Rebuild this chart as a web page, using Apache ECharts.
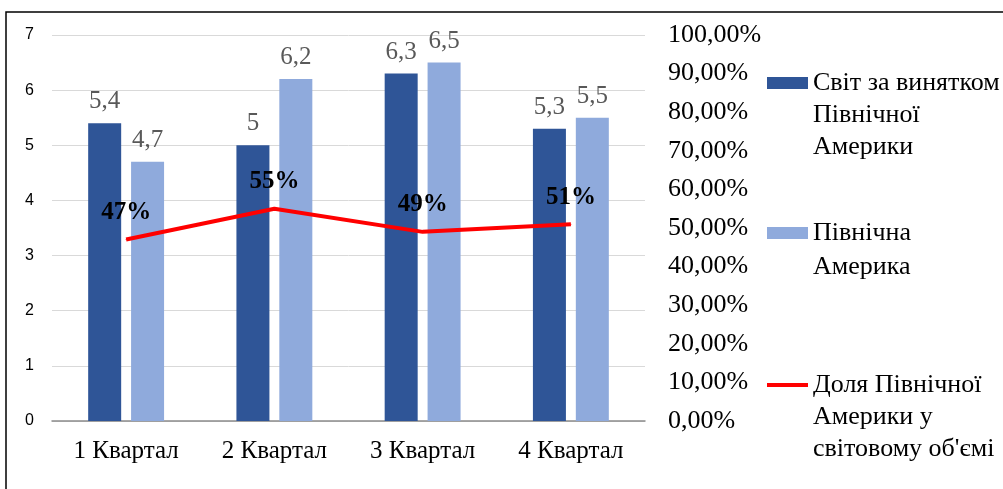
<!DOCTYPE html>
<html>
<head>
<meta charset="utf-8">
<script src="https://cdn.jsdelivr.net/npm/echarts@6/dist/echarts.min.js"></script>
<style>
  html, body { margin: 0; padding: 0; background: #fff; }
  #chart-container { width: 1003px; height: 489px; }
</style>
</head>
<body>
<div id="chart-container"></div>
<script>
var categories = ["1 Квартал", "2 Квартал", "3 Квартал", "4 Квартал"];
var worldExNA = [5.4, 5, 6.3, 5.3];
var northAmerica = [4.7, 6.2, 6.5, 5.5];
var naShare = [0.47, 0.55, 0.49, 0.51];
var seriesNames = ["Світ за винятком Північної Америки", "Північна Америка", "Доля Північної Америки у світовому об'ємі"];
// leading blank lines put the first text line level with the legend icon
var legendText = ["\n\nСвіт за винятком\nПівнічної\nАмерики", "\nПівнічна\nАмерика", "\n\nДоля Північної\nАмерики у\nсвітовому об'ємі"];

var serif = "'Liberation Serif', 'Times New Roman', 'DejaVu Serif', serif";
var sans = "'Liberation Sans', Arial, sans-serif";
var dom = document.getElementById("chart-container");
var myChart = echarts.init(dom, null, { renderer: "canvas" });

function legendFor(i, top, h, lh) {
  return {
    orient: "vertical",
    left: 767,
    top: top,
    padding: 0,
    itemWidth: 41,
    itemHeight: h,
    icon: "rect",
    data: [seriesNames[i]],
    formatter: function () { return legendText[i]; },
    textStyle: { fontFamily: serif, fontSize: 26, color: "#000", lineHeight: lh }
  };
}

var option = {
  animation: false,
  graphic: [{
    type: "rect",
    shape: { x: 6, y: 12, width: 1100, height: 600 },
    style: { fill: "none", stroke: "#000", lineWidth: 1.5 },
    silent: true
  }],
  legend: [
    legendFor(0, 3, 12, 32),
    legendFor(1, 182, 12, 34),
    legendFor(2, 305, 4, 32)
  ],
  grid: { left: 52, right: 358, top: 35, bottom: 68 },
  xAxis: {
    type: "category",
    data: categories,
    axisTick: { show: false },
    axisLine: { lineStyle: { color: "#8c8c8c", width: 1.5 } },
    axisLabel: { fontFamily: serif, fontSize: 25, color: "#000", margin: 18 }
  },
  yAxis: [{
    type: "value",
    min: 0, max: 7, interval: 1,
    axisLine: { show: false },
    axisTick: { show: false },
    axisLabel: { fontFamily: sans, fontSize: 16, color: "#000", margin: 18 },
    splitLine: { lineStyle: { color: "#d9d9d9", width: 1 } }
  }, {
    type: "value",
    min: 0, max: 1, interval: 0.1,
    axisLine: { show: false },
    axisTick: { show: false },
    splitLine: { show: false },
    axisLabel: {
      fontFamily: serif, fontSize: 26, color: "#000", margin: 23,
      formatter: function (v) { return (v * 100).toFixed(2).replace(".", ",") + "%"; }
    }
  }],
  series: [{
    name: seriesNames[0],
    type: "bar",
    data: worldExNA,
    barWidth: 33,
    barGap: "30%",
    itemStyle: { color: "#2f5597" },
    label: {
      show: true, position: "top", distance: 9,
      fontFamily: serif, fontSize: 25, color: "#595959",
      formatter: function (p) { return String(p.value).replace(".", ","); }
    }
  }, {
    name: seriesNames[1],
    type: "bar",
    data: northAmerica,
    barWidth: 33,
    itemStyle: { color: "#8faadc" },
    label: {
      show: true, position: "top", distance: 9,
      fontFamily: serif, fontSize: 25, color: "#595959",
      formatter: function (p) { return String(p.value).replace(".", ","); }
    }
  }, {
    name: seriesNames[2],
    type: "line",
    yAxisIndex: 1,
    data: naShare,
    symbol: "circle",
    symbolSize: 1,
    showSymbol: true,
    lineStyle: { color: "#ff0000", width: 4 },
    itemStyle: { color: "#ff0000" },
    label: {
      show: true, position: "top", distance: 14,
      fontFamily: serif, fontSize: 25, fontWeight: "bold", color: "#000",
      formatter: function (p) { return Math.round(p.value * 100) + "%"; }
    }
  }]
};

myChart.setOption(option);
window.addEventListener("resize", myChart.resize);
</script>
</body>
</html>
